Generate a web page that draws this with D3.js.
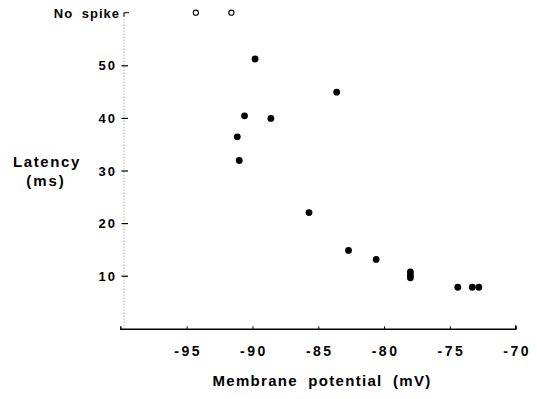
<!DOCTYPE html>
<html><head><meta charset="utf-8">
<script src="https://cdn.jsdelivr.net/npm/d3@7/dist/d3.min.js"></script>
<style>
body{margin:0;background:#fff;}
text{font-family:"Liberation Sans",Arial,sans-serif;font-weight:bold;fill:#000;}
</style></head><body>
<svg id="c" width="537" height="399"></svg>
<script>
const potential = [-89.8, -83.6, -90.6, -88.6, -91.15, -91.0, -85.7, -82.7, -80.6, -78.0, -78.0, -78.0, -74.4, -73.3, -72.8];
const latency   = [51.2, 44.9, 40.4, 39.9, 36.4, 31.9, 22.0, 14.8, 13.1, 10.7, 10.1, 9.6, 7.8, 7.8, 7.8];
const noSpikePotential = [-94.3, -91.6];
const noSpikeLevel = 60;
const xTicks = [-95, -90, -85, -80, -75, -70];
const yTicks = [10, 20, 30, 40, 50];
const xLabel = "Membrane potential (mV)";
const yLabel = ["Latency", "(ms)"];
const noSpikeLabel = "No spike";

const svg = d3.select("#c");
const x = d3.scaleLinear().domain([-100, -70]).range([120.8, 515.7]);
const y = d3.scaleLinear().domain([0, 50]).range([328.3, 65.3]);

// y axis (dotted)
svg.append("line").attr("x1",124).attr("x2",124).attr("y1",y(noSpikeLevel)).attr("y2",y(0))
  .attr("stroke","#888").attr("stroke-width",1).attr("stroke-dasharray","1,2");
// y ticks
const yAxis = d3.axisLeft(y).tickValues(yTicks).tickSize(0).tickPadding(0).tickFormat(d=>d);
const gy = svg.append("g").attr("transform","translate(124,0)").call(yAxis);
gy.select(".domain").remove();
gy.selectAll(".tick line").attr("x1",-2.5).attr("x2",4).attr("stroke","#000").attr("stroke-width",1.2);
gy.selectAll(".tick text").attr("x",-7).attr("dy","0.35em").style("font-size","13px").style("letter-spacing","2px")
  .style("font-family","Liberation Sans, Arial, sans-serif").style("font-weight","bold").attr("fill","#000");
// no spike tick
svg.append("path").attr("d",`M124,${y(noSpikeLevel)+4}V${y(noSpikeLevel)}H129`).attr("fill","none").attr("stroke","#000").attr("stroke-width",1);
svg.append("text").attr("x",120).attr("y",y(noSpikeLevel)+1).attr("dy","0.35em").attr("text-anchor","end")
  .style("font-size","13px").style("letter-spacing","1px").style("word-spacing","4px").text(noSpikeLabel);

// x axis
const xAxis = d3.axisBottom(x).tickValues(xTicks).tickSize(0).tickPadding(0).tickFormat(d=>d);
const gx = svg.append("g").attr("transform",`translate(0,${y(0)+1})`).call(xAxis);
gx.select(".domain").attr("d",`M${x(-100)},-3V0H${x(-70)}V-4`).attr("stroke","#000").attr("stroke-width",1.5).attr("fill","none");
gx.selectAll(".tick line").attr("y1",0).attr("y2",-3).attr("stroke","#000");
gx.selectAll(".tick text").attr("y",27).attr("dy",0).style("font-size","14px").style("letter-spacing","2.5px")
  .style("font-family","Liberation Sans, Arial, sans-serif").style("font-weight","bold").attr("fill","#000")
  .attr("text-anchor","middle").attr("dx","1px");

// labels
svg.append("text").attr("x",322).attr("y",386).attr("text-anchor","middle")
  .style("font-size","15px").style("letter-spacing","1.3px").style("word-spacing","5px").text(xLabel);
svg.append("text").attr("x",47).attr("y",167).attr("text-anchor","middle").style("font-size","15px").style("letter-spacing","1.6px").text(yLabel[0]);
svg.append("text").attr("x",46).attr("y",186).attr("text-anchor","middle").style("font-size","15px").style("letter-spacing","2px").text(yLabel[1]);

// points
svg.selectAll("circle.p").data(potential.map((p,i)=>[p,latency[i]])).enter().append("circle")
  .attr("class","p").attr("cx",d=>x(d[0])).attr("cy",d=>y(d[1])).attr("r",3.4).attr("fill","#000");
svg.selectAll("circle.n").data(noSpikePotential).enter().append("circle")
  .attr("class","n").attr("cx",d=>x(d)).attr("cy",y(noSpikeLevel)).attr("r",2.6)
  .attr("fill","none").attr("stroke","#000").attr("stroke-width",1.1);
</script></body></html>
